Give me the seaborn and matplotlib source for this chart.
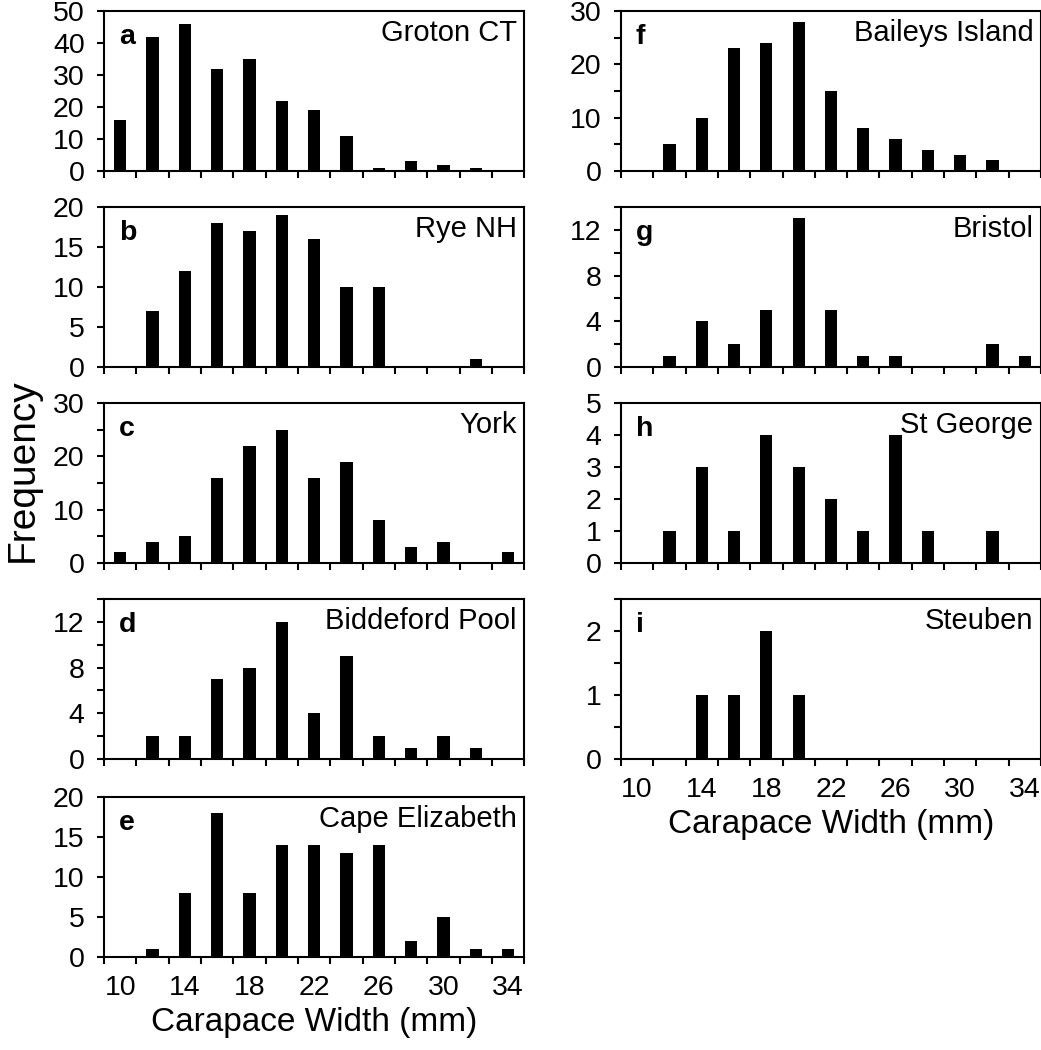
import numpy as np
import pandas as pd
import matplotlib
matplotlib.use("Agg")
import matplotlib.pyplot as plt
import seaborn as sns

sns.set_style("ticks")
plt.rcParams['font.family'] = ['Liberation Sans', 'DejaVu Sans']
plt.rcParams['text.color'] = 'black'
plt.rcParams['axes.labelcolor'] = 'black'
plt.rcParams['xtick.color'] = 'black'
plt.rcParams['ytick.color'] = 'black'

# carapace width size classes (mm)
widths = [10, 12, 14, 16, 18, 20, 22, 24, 26, 28, 30, 32, 34]
tick_labels = ["10", "14", "18", "22", "26", "30", "34"]

groton = [16, 42, 46, 32, 35, 22, 19, 11, 1, 3, 2, 1, 0]
rye = [0, 7, 12, 18, 17, 19, 16, 10, 10, 0, 0, 1, 0]
york = [2, 4, 5, 16, 22, 25, 16, 19, 8, 3, 4, 0, 2]
biddeford = [0, 2, 2, 7, 8, 12, 4, 9, 2, 1, 2, 1, 0]
cape_eliz = [0, 1, 8, 18, 8, 14, 14, 13, 14, 2, 5, 1, 1]
baileys = [0, 5, 10, 23, 24, 28, 15, 8, 6, 4, 3, 2, 0]
bristol = [0, 1, 4, 2, 5, 13, 5, 1, 1, 0, 0, 2, 1]
st_george = [0, 1, 3, 1, 4, 3, 2, 1, 4, 1, 0, 1, 0]
steuben = [0, 0, 1, 1, 2, 1, 0, 0, 0, 0, 0, 0, 0]

# (letter, site, counts, ymax, major step, minor step, column, row)
panels = [
    ("a", "Groton CT", groton, 50, 10, 10, 0, 0),
    ("b", "Rye NH", rye, 20, 5, 5, 0, 1),
    ("c", "York", york, 30, 10, 5, 0, 2),
    ("d", "Biddeford Pool", biddeford, 14, 4, 2, 0, 3),
    ("e", "Cape Elizabeth", cape_eliz, 20, 5, 5, 0, 4),
    ("f", "Baileys Island", baileys, 30, 10, 5, 1, 0),
    ("g", "Bristol", bristol, 14, 4, 2, 1, 1),
    ("h", "St George", st_george, 5, 1, 1, 1, 2),
    ("i", "Steuben", steuben, 2.5, 1, 0.5, 1, 3),
]

fig = plt.figure(figsize=(10.41, 10.5), dpi=100)

col_left = [0.100, 0.5965]
col_width = 0.4035
row_bottom = [0.8371, 0.6505, 0.4638, 0.2771, 0.0886]
row_height = 0.1524

order = [str(w) for w in widths]
for letter, site, counts, ymax, major, minor, col, row in panels:
    ax = fig.add_axes([col_left[col], row_bottom[row], col_width, row_height])
    df = pd.DataFrame({"width": order, "count": counts})
    sns.barplot(data=df, x="width", y="count", order=order, color="black",
                saturation=1, width=0.38, linewidth=0, ax=ax)
    ax.set_xlim(-0.5, len(widths) - 0.5)
    ax.set_ylim(0, ymax)

    # x ticks between categories, labels under every other category
    ax.set_xticks(np.arange(-0.5, len(widths)), labels=[""] * (len(widths) + 1))
    ax.set_xticks(np.arange(0, len(widths), 2), minor=True)
    last = row == 4 or (col == 1 and row == 3)
    if last:
        ax.set_xticklabels(tick_labels, minor=True)
        ax.set_xlabel("Carapace Width (mm)", fontsize=24, labelpad=4)
    else:
        ax.set_xticklabels([""] * len(tick_labels), minor=True)
        ax.set_xlabel("")
    ax.tick_params(axis="x", which="major", direction="out", length=5, width=1.5)
    ax.tick_params(axis="x", which="minor", length=0, labelsize=20.5, pad=13)

    ax.set_yticks(np.arange(0, ymax + 0.01, major))
    ax.set_yticks(np.arange(0, ymax + 0.01, minor), minor=True)
    ax.set_yticklabels([f"{v:g}" for v in np.arange(0, ymax + 0.01, major)])
    ax.tick_params(axis="y", which="both", direction="out", length=5, width=1.5,
                   labelsize=20.5, pad=9)
    ax.set_ylabel("")

    for s in ax.spines.values():
        s.set_visible(True)
        s.set_linewidth(1.5)
        s.set_color("black")

    ax.text(0.035, 0.84, letter, transform=ax.transAxes, fontsize=20.5,
            fontweight="bold", ha="left", va="center")
    ax.text(0.982, 0.86, site, transform=ax.transAxes, fontsize=21,
            ha="right", va="center")

fig.text(0.022, 0.552, "Frequency", rotation=90, fontsize=28,
         ha="center", va="center")

fig.savefig("out.png", dpi=100)
